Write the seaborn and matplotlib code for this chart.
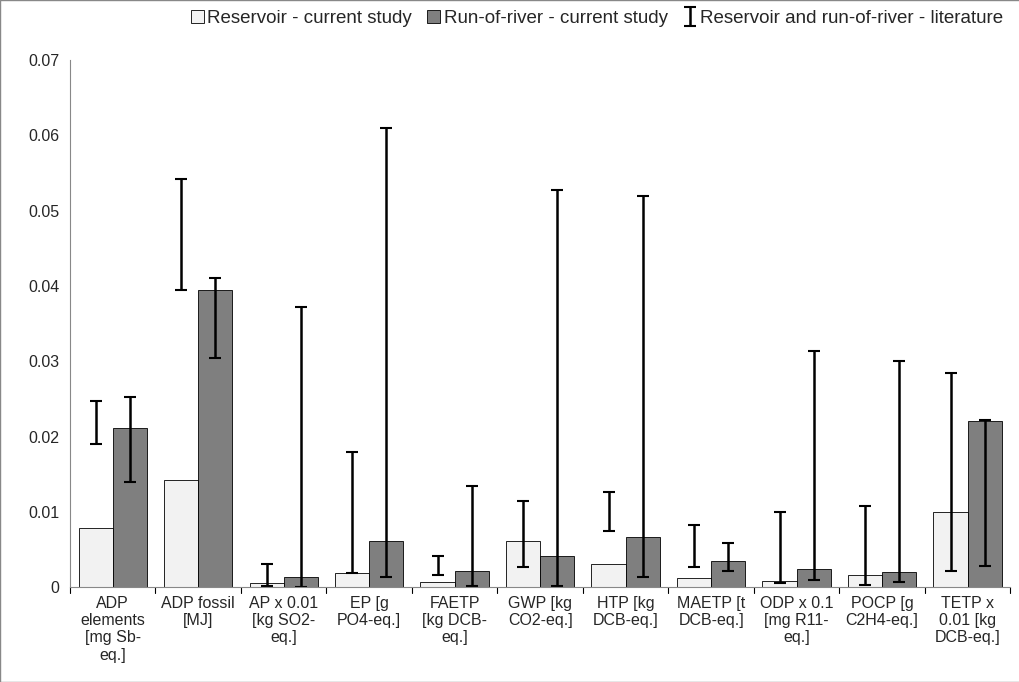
import numpy as np
import pandas as pd
import matplotlib
matplotlib.use('Agg')
import matplotlib.pyplot as plt
import seaborn as sns
from matplotlib.patches import Patch

categories = ["ADP\nelements\n[mg Sb-\neq.]", "ADP fossil\n[MJ]", "AP x 0.01\n[kg SO2-\neq.]",
              "EP [g\nPO4-eq.]", "FAETP\n[kg DCB-\neq.]", "GWP [kg\nCO2-eq.]", "HTP [kg\nDCB-eq.]",
              "MAETP [t\nDCB-eq.]", "ODP x 0.1\n[mg R11-\neq.]", "POCP [g\nC2H4-eq.]",
              "TETP x\n0.01 [kg\nDCB-eq.]"]
reservoir = [0.0078, 0.0143, 0.0005, 0.0019, 0.0007, 0.0062, 0.0031, 0.0012, 0.0008, 0.0016, 0.0100]
river = [0.0211, 0.0395, 0.0014, 0.0062, 0.0021, 0.0041, 0.0067, 0.0035, 0.0024, 0.0020, 0.0221]
res_lit_lo = [0.0190, 0.0395, 0.0001, 0.0019, 0.0016, 0.0027, 0.0075, 0.0027, 0.0005, 0.0003, 0.0022]
res_lit_hi = [0.0247, 0.0542, 0.0031, 0.0180, 0.0042, 0.0115, 0.0127, 0.0082, 0.0100, 0.0108, 0.0284]
riv_lit_lo = [0.0140, 0.0304, 0.0000, 0.0014, 0.0001, 0.0001, 0.0014, 0.0022, 0.0009, 0.0007, 0.0028]
riv_lit_hi = [0.0252, 0.0410, 0.0372, 0.0610, 0.0134, 0.0527, 0.0520, 0.0059, 0.0313, 0.0300, 0.0222]

sns.set_style("white")
plt.rcParams['font.family'] = ['Liberation Sans', 'DejaVu Sans']

df = pd.DataFrame({
    'category': categories * 2,
    'value': reservoir + river,
    'series': ['Reservoir - current study'] * 11 + ['Run-of-river - current study'] * 11,
})

fig = plt.figure(figsize=(10.2, 6.82), dpi=100)
ax = fig.add_axes([0.0686, 0.139, 0.922, 0.773])
sns.barplot(data=df, x='category', y='value', hue='series',
            palette=['#f2f2f2', '#7f7f7f'], edgecolor='black', linewidth=0.6,
            width=0.8, ax=ax, legend=False)

x = np.arange(len(categories))
for off, lo, hi, lab in [(-0.2, res_lit_lo, res_lit_hi, None),
                         (0.2, riv_lit_lo, riv_lit_hi, 'Reservoir and run-of-river - literature')]:
    lo = np.array(lo); hi = np.array(hi)
    mid = (lo + hi) / 2
    ax.errorbar(x + off, mid, yerr=(hi - lo) / 2, fmt='none', ecolor='black',
                elinewidth=1.8, capsize=4, capthick=1.5, label=lab)

ax.set_xlim(-0.5, 10.5)
ax.set_ylim(0, 0.07)
ax.set_yticks(np.arange(0, 0.071, 0.01))
ax.set_yticklabels(['0'] + [f'{v:.2f}' for v in np.arange(0.01, 0.071, 0.01)])
ax.set_xlabel('')
ax.set_ylabel('')
ax.tick_params(axis='both', labelsize=11.5)
ax.set_xticks(x)
ax.set_xticklabels(categories, va='top')
ax.tick_params(axis='x', length=0, pad=6)
for b in np.arange(-0.5, 11, 1):
    ax.plot([b, b], [0, -0.0008], color='black', lw=0.8, clip_on=False)
ax.tick_params(axis='y', length=4, color='black', direction='out')
for s in ['top', 'right']:
    ax.spines[s].set_visible(False)
for s in ['left', 'bottom']:
    ax.spines[s].set_color('#888888')

handles = [Patch(facecolor='#f2f2f2', edgecolor='black', lw=0.6),
           Patch(facecolor='#7f7f7f', edgecolor='black', lw=0.6),
           ax.get_legend_handles_labels()[0][0]]
labels = ['Reservoir - current study', 'Run-of-river - current study',
          'Reservoir and run-of-river - literature']
fig.legend(handles, labels, loc='upper right', bbox_to_anchor=(1.0, 1.01), ncol=3,
           frameon=False, fontsize=13.5, handlelength=0.7, handletextpad=0.2, columnspacing=0.8)

fig.patches.append(plt.Rectangle((0, 0), 1, 1, transform=fig.transFigure,
                                 fill=False, edgecolor='#888888', lw=1))
fig.savefig('out.png', dpi=100)
